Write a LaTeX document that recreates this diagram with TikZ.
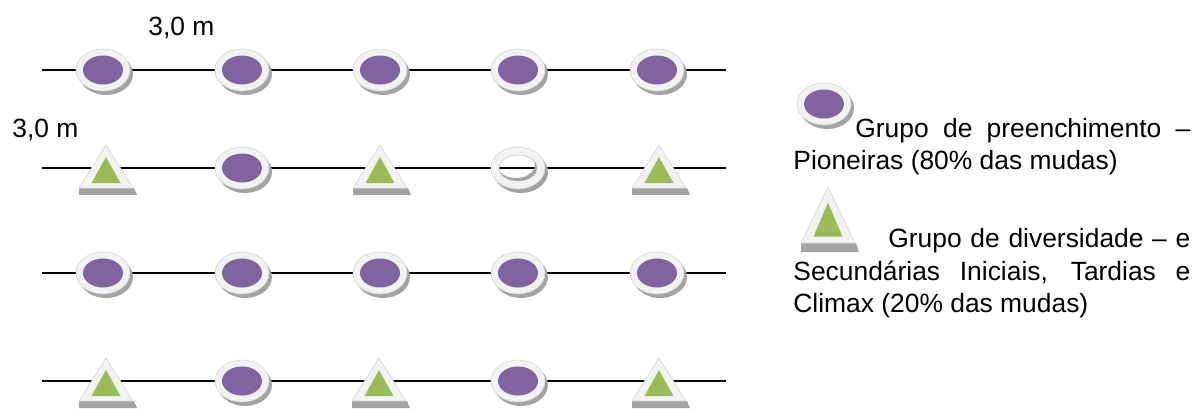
\documentclass[tikz,border=0pt]{standalone}
\usepackage{fontspec}
\setmainfont{Liberation Sans}
\definecolor{roxo}{HTML}{8064A2}
\definecolor{verde}{HTML}{9BBB59}
\definecolor{anel}{HTML}{F2F2F2}
\definecolor{borda}{HTML}{D4D4D4}
\definecolor{sombra}{HTML}{A3A3A3}
\tikzset{
  texto/.style={anchor=base west,inner sep=0pt},
  linha/.style={line width=0.9pt},
  pioneira/.pic={
    \fill[sombra] (3,4) ellipse [x radius=27,y radius=21];
    \filldraw[fill=anel,draw=borda,line width=0.3pt] (0,0) ellipse [x radius=27,y radius=21];
    \fill[roxo] (0,0) ellipse [x radius=20,y radius=14.5];
  },
  vazia/.pic={
    \fill[sombra,even odd rule] (3,4) ellipse [x radius=27,y radius=21] (0,0) ellipse [x radius=19,y radius=13];
    \filldraw[fill=anel,draw=borda,line width=0.3pt,even odd rule] (0,0) ellipse [x radius=27,y radius=21] (0,0) ellipse [x radius=19,y radius=13];
    \begin{scope}
      \clip (0,0) ellipse [x radius=19,y radius=13];
      \fill[sombra,even odd rule] (0,0) ellipse [x radius=19,y radius=13] (-2,-3) ellipse [x radius=19,y radius=13];
    \end{scope}
  },
  diversa/.pic={
    \fill[sombra] (-27,20) -- (28,20) -- (31,27) -- (-27,27) -- cycle;
    \filldraw[fill=anel,draw=borda,line width=0.3pt] (0,-23) -- (27,20) -- (-27,20) -- cycle;
    \fill[verde] (0,-11) -- (14.5,15) -- (-14.5,15) -- cycle;
  }
}
\begin{document}
\begin{tikzpicture}[x=0.5pt,y=-0.5pt,font=\fontsize{13.2}{15}\selectfont]
      \useasboundingbox (0,0) rectangle (1195,408);

      % Linhas de plantio
      \coordinate (a1) at (42,70);  \coordinate (e1) at (726,70);
      \coordinate (a2) at (42,168); \coordinate (e2) at (726,168);
      \coordinate (a3) at (42,273); \coordinate (e3) at (726,273);
      \coordinate (a4) at (42,381); \coordinate (e4) at (726,381);
      \draw[linha] (a1) -- (e1);
      \draw[linha] (a2) -- (e2);
      \draw[linha] (a3) -- (e3);
      \draw[linha] (a4) -- (e4);

      % Mudas
      \path (103,70) pic {pioneira} (242,70) pic {pioneira} (380,70) pic {pioneira} (518,70) pic {pioneira} (657,70) pic {pioneira};
      \path (106,168) pic {diversa} (242,168) pic {pioneira} (380,168) pic {diversa} (518,168) pic {vazia} (659,168) pic {diversa};
      \path (103,273) pic {pioneira} (242,273) pic {pioneira} (380,273) pic {pioneira} (518,273) pic {pioneira} (657,273) pic {pioneira};
      \path (106,381) pic {diversa} (242,381) pic {pioneira} (379,381) pic {diversa} (518,381) pic {pioneira} (659,381) pic {diversa};

      % Espacamento
      \node[texto] (d1) at (148,35) {3,0 m};
      \node[texto] (d2) at (12,137) {3,0 m};

      % Legenda
      \path (824,104) pic {pioneira};
      \path (828,217) pic[yscale=1.3] {diversa};
      \node[texto] (g1) at (855,137) {\makebox[167.5pt][s]{Grupo de preenchimento –}};
      \node[texto] (g2) at (793,169) {Pioneiras (80\% das mudas)};
      \node[texto] (g3) at (888,247) {\makebox[151pt][s]{Grupo de diversidade – e}};
      \node[texto] (g4) at (793,280) {\makebox[198.5pt][s]{Secundárias Iniciais, Tardias e}};
      \node[texto] (g5) at (793,312) {Climax (20\% das mudas)};
\end{tikzpicture}
\end{document}
